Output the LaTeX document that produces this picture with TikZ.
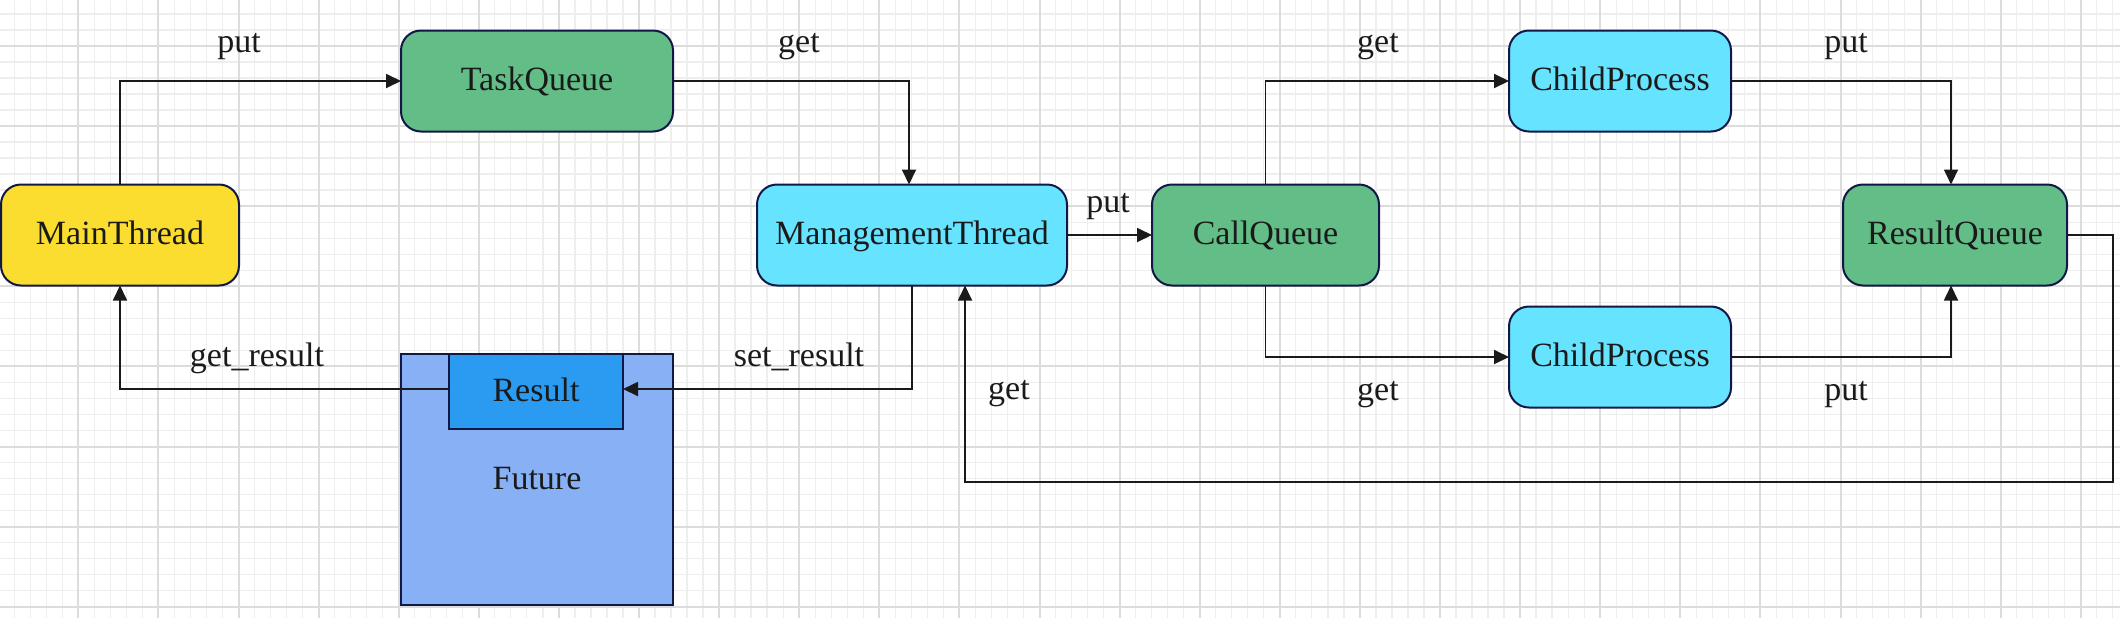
\documentclass[tikz,border=0pt]{standalone}
\usepackage{fontspec}
\setmainfont{Liberation Serif}
\usetikzlibrary{arrows.meta}
\definecolor{gridminor}{HTML}{EEEEEE}
\definecolor{gridmajor}{HTML}{DCDCDC}
\definecolor{cyellow}{HTML}{FBDD2F}
\definecolor{cgreen}{HTML}{62BD87}
\definecolor{ccyan}{HTML}{66E3FE}
\definecolor{cfuture}{HTML}{88B0F4}
\definecolor{cresult}{HTML}{2B9BF2}
\definecolor{cborder}{HTML}{121845}
\definecolor{ctext}{HTML}{1A1A1A}
\begin{document}
\begin{tikzpicture}[x=0.5pt,y=-0.5pt,
  minorgrid/.style={draw=gridminor, line width=0.65pt},
  majorgrid/.style={draw=gridmajor, line width=1pt},
  txt/.style={font=\fontsize{17pt}{20pt}\selectfont, text=ctext},
  qbox/.style={txt, draw=cborder, line width=1pt, rounded corners=10pt,
    minimum width=#1, minimum height=50.5pt, inner sep=0pt, outer sep=0pt,
    text height=12pt, text depth=2.5pt},
  sbox/.style={txt, draw=cborder, line width=1pt,
    inner sep=0pt, outer sep=0pt, text height=12pt, text depth=2.5pt},
  lbl/.style={txt, anchor=base, inner sep=0pt},
  link/.style={draw=ctext, line width=0.9pt, -{Triangle[length=7.5pt,width=7pt]}}
]
\useasboundingbox (0,0) rectangle (2120,618);
\fill[white] (0,0) rectangle (2120,618);
% grid
\foreach \i in {0,...,131} \draw[minorgrid] ({14.2+16.02*\i},0) -- ({14.2+16.02*\i},618);
\foreach \i in {0,...,37} \draw[minorgrid] (0,{13.9+16.02*\i}) -- (2120,{13.9+16.02*\i});
\foreach \i in {0,...,25} \draw[majorgrid] ({78.3+80.1*\i},0) -- ({78.3+80.1*\i},618);
\foreach \i in {0,...,7} \draw[majorgrid] (0,{46+80.1*\i}) -- (2120,{46+80.1*\i});

% nodes
\node[qbox=119pt, fill=cyellow] (main) at (120,235) {MainThread};
\node[qbox=136pt, fill=cgreen] (taskq) at (537,81) {TaskQueue};
\node[qbox=155pt, fill=ccyan] (mgmt) at (912,235) {ManagementThread};
\node[qbox=113.5pt, fill=cgreen] (callq) at (1265.5,235) {CallQueue};
\node[qbox=111pt, fill=ccyan] (cp1) at (1620,81) {ChildProcess};
\node[qbox=111pt, fill=ccyan] (cp2) at (1620,357) {ChildProcess};
\node[qbox=112pt, fill=cgreen] (resq) at (1955,235) {ResultQueue};
\node[sbox, fill=cfuture, minimum width=136pt, minimum height=125.5pt] (future) at (537,479.5) {Future};
\node[sbox, fill=cresult, minimum width=87pt, minimum height=37.5pt] (result) at (536,391.5) {Result};

% connectors
\draw[link] (main.north) |- (taskq.west);
\draw[link] (taskq.east) -| ([xshift=-1.5pt]mgmt.north);
\draw[link] (mgmt.south) |- ([yshift=1.25pt]result.east);
\draw[link] ([yshift=1.25pt]result.west) -| (main.south);
\draw[link] (mgmt.east) -- (callq.west);
\draw[link] (callq.north) |- (cp1.west);
\draw[link] (callq.south) |- (cp2.west);
\draw[link] (cp1.east) -| ([xshift=-2pt]resq.north);
\draw[link] (cp2.east) -| ([xshift=-2pt]resq.south);
\coordinate (fb) at (2113,482);
\draw[link] (resq.east) -| (fb) -| ([xshift=26.5pt]mgmt.south);

% labels
\node[lbl] (l1) at (239,52) {put};
\node[lbl] (l2) at (799,52) {get};
\node[lbl] (l3) at (257,366) {get\_result};
\node[lbl] (l4) at (799,366) {set\_result};
\node[lbl] (l5) at (1108,212) {put};
\node[lbl] (l6) at (1009,399) {get};
\node[lbl] (l7) at (1378,52) {get};
\node[lbl] (l8) at (1378,400) {get};
\node[lbl] (l9) at (1846,52) {put};
\node[lbl] (l10) at (1846,400) {put};
\end{tikzpicture}
\end{document}
